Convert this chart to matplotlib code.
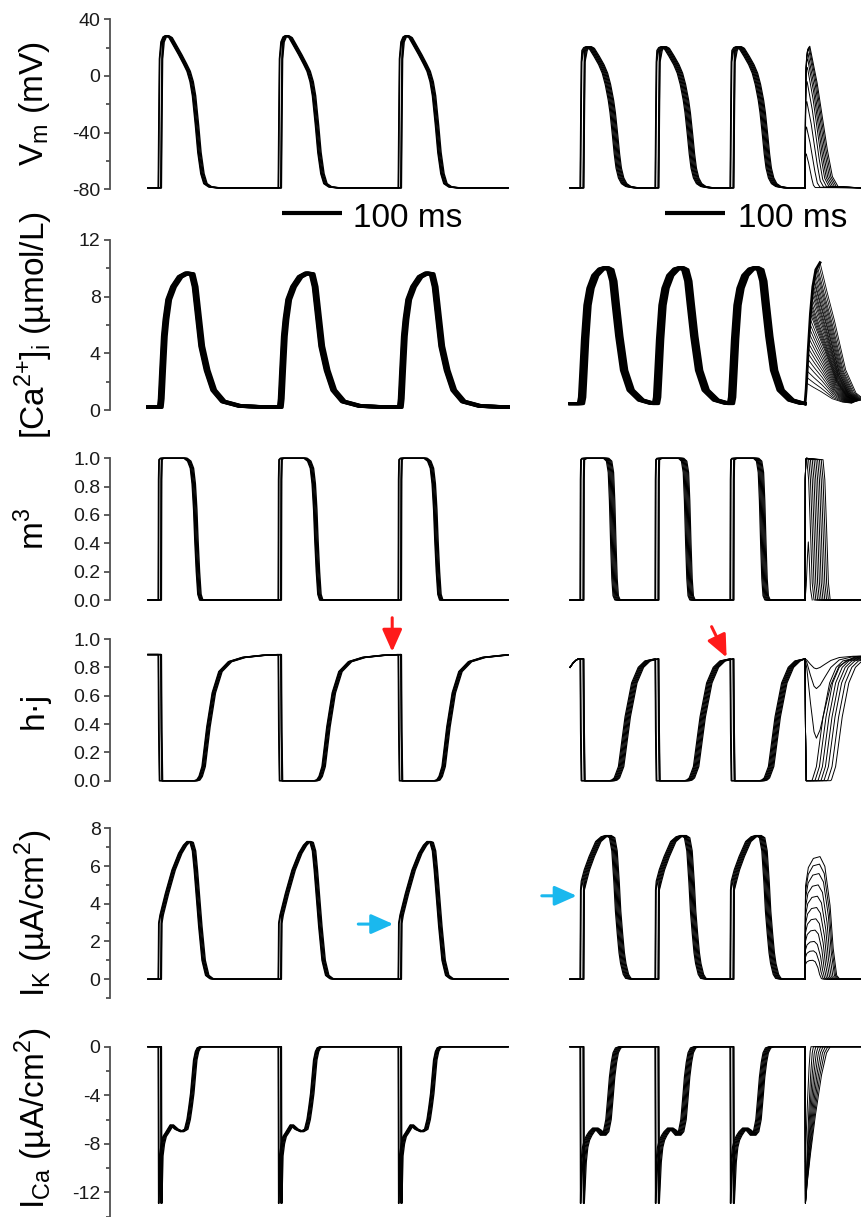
import numpy as np
import matplotlib.pyplot as plt

plt.rcParams['font.family'] = ['Liberation Sans', 'DejaVu Sans']
plt.rcParams['mathtext.fontset'] = 'custom'
plt.rcParams['mathtext.rm'] = 'Liberation Sans'
plt.rcParams['axes.unicode_minus'] = False

W, H = 861, 1217

# pacing: upstroke times (ms) of the slow train and the fast train
slow_beats = [17, 217, 417]
fast_beats = [16.7, 141.7, 266.7]
fast_last = 391.7
slow_end, fast_end = 600, 485

# per-trace delay (ms) of the upstroke and of everything after it
slow_onset = [0.0, 0.6, 4.2, 4.8, 5.4]
slow_shift = [-2.0, -1.0, 0.5, 2.0, 3.5]
fast_onset = [0.0, 0.5, 1.0, 5.0, 5.5, 6.0, 6.5]
fast_shift = [-3.0, -1.5, 0.0, 1.5, 3.0, 4.5, 6.0]

# single-beat waveforms, time (ms) from upstroke
vm_slow_t = [0, 1.0, 2.0, 6.5, 10, 14, 20, 28, 36, 44, 50, 55, 59, 64, 68, 73, 78, 86, 100]
vm_slow_v = [-79, -30, 12, 24, 27.5, 28.5, 27, 21, 15, 8.5, 3.3, -4, -14, -35, -54, -69, -76, -78.3, -79]
vm_fast_t = [0, 1.0, 2.0, 6, 9, 13, 18, 26, 34, 40, 45, 50, 53, 57, 60, 63, 67, 72, 79, 92]
vm_fast_v = [-79, -30, 10, 18, 20, 20.7, 19.5, 14, 8, 2, -6, -17, -26, -42, -55, -65, -72, -76, -78, -79]

ca_slow_t = [0, 2.8, 4.3, 6.7, 9.5, 12.2, 16.8, 24.8, 35.8, 46.8, 55.8, 60.8, 66.8, 71.8, 80.8, 91.8, 107.8, 135.8, 170]
ca_slow_v = [0.2, 0.2, 0.8, 2.9, 5.2, 6.4, 7.8, 8.7, 9.4, 9.65, 9.6, 8.7, 6.4, 4.5, 2.8, 1.4, 0.6, 0.28, 0.22]
ca_fast_t = [0, 2, 4, 7, 11, 16, 24, 34, 42, 49, 54, 58, 64, 72, 83, 100, 118]
ca_fast_v = [0.45, 0.9, 2.5, 5.0, 7.4, 8.6, 9.5, 9.95, 10.05, 9.9, 9.1, 7.5, 5.2, 2.8, 1.4, 0.7, 0.48]

m3_slow_t = [0, 0.5, 1.2, 5.5, 45, 51, 55.5, 58.5, 61, 63, 65.5, 68, 71, 80]
m3_slow_v = [0, 0.85, 0.99, 1.0, 1.0, 0.98, 0.93, 0.82, 0.64, 0.42, 0.2, 0.04, 0.0, 0.0]
m3_fast_t = [0, 0.5, 1.2, 6, 42, 47, 50, 52, 54, 56, 58, 61]
m3_fast_v = [0, 0.85, 0.99, 1.0, 1.0, 0.98, 0.9, 0.7, 0.4, 0.15, 0.03, 0]

hj_slow_t = [0, 0.8, 2.0, 62, 66, 70, 75, 83, 92, 103, 119, 142, 175]
hj_slow_v = [0.89, 0.35, 0.0, 0.0, 0.005, 0.03, 0.1, 0.38, 0.62, 0.77, 0.84, 0.87, 0.885]
hj_fast_t = [0, 0.8, 2.0, 52, 56, 60, 67, 78, 89, 100, 111]
hj_fast_v = [0.86, 0.35, 0, 0, 0.005, 0.02, 0.1, 0.45, 0.69, 0.80, 0.845]
hj_lead_t = [0, 5, 10, 14]
hj_lead_v = [0.80, 0.83, 0.85, 0.86]

ik_slow_t = [0, 0.8, 5, 14, 25, 36, 44, 50, 55, 59, 62, 65, 69.5, 75, 81, 88, 95]
ik_slow_v = [0, 2.96, 3.4, 4.55, 5.79, 6.67, 7.1, 7.3, 7.25, 6.8, 5.8, 4.6, 2.8, 1.0, 0.2, 0.03, 0]
ik_fast_t = [0, 0.8, 5, 10, 18, 29, 38, 46, 52, 56, 59.5, 62, 65, 68, 70.6, 75, 79, 88]
ik_fast_v = [0, 4.73, 5.2, 5.8, 6.5, 7.3, 7.55, 7.62, 7.5, 6.8, 5.1, 3.6, 2.43, 1.4, 0.83, 0.25, 0.04, 0]

ica_slow_t = [0, 0.7, 4.5, 7, 10, 14, 22, 30, 39, 46, 50, 53, 56, 59, 61, 64, 67, 72]
ica_slow_v = [0, -12.9, -9.0, -8.0, -7.4, -7.1, -6.45, -6.8, -7.0, -6.8, -6.0, -5.0, -3.85, -2.2, -1.1, -0.4, -0.1, 0]
ica_fast_t = [0, 0.7, 4.5, 7, 10, 14, 18, 24, 30, 37, 42, 46, 49, 52, 55, 58, 62, 68]
ica_fast_v = [0, -12.9, -9.5, -8.3, -7.7, -7.3, -7.0, -6.7, -6.9, -7.3, -7.0, -6.0, -4.3, -2.5, -1.3, -0.5, -0.1, 0]

# last beat of the fast train: the responses split apart
vm4_peak = [21, 20.5, 19, 16, 12, 6, -4, -18, -36, -55]
vm4_tpk = [8, 7, 6, 5, 4.5, 4, 3.5, 3, 2.5, 2]
vm4_end = [55, 52, 49, 46, 43, 40, 36, 31, 25, 17]
vm4_rise_f = [0, 0.125, 0.25, 0.44, 0.62, 1.0]
vm4_rise_v = [0, 0.49, 0.84, 0.94, 0.98, 1.0]
vm4_fall_f = [0.26, 0.62, 0.8, 1.0]
vm4_fall_v = [0.74, 0.27, 0.08, 0.01]

ca4_front_t = [0, 2, 5, 9, 13, 18, 25]
ca4_front_v = [0.45, 1.5, 4.0, 6.8, 8.7, 9.9, 10.4]
ca4_top_t = [25, 23, 21, 19.5, 18, 17, 16, 15, 14.5, 13.5, 13, 12.5, 12, 11.5, 11, 10.5, 10,
             9.5, 9, 8.5, 8, 7.5, 7, 6.5, 6, 5.5, 5, 4.5, 4, 3.5, 3, 2.5]
ca4_top_v = [10.4, 10.25, 10.1, 10.0, 9.9, 9.65, 9.45, 9.25, 9.1, 8.9, 8.7, 8.45, 8.2, 7.9, 7.6,
             7.4, 7.2, 7.0, 6.8, 6.45, 6.1, 5.75, 5.4, 5.05, 4.7, 4.35, 4.0, 3.6, 3.2, 2.75, 2.3, 1.9]
ca4_fall_f = [0.15, 0.32, 0.57, 0.8, 1.0]
ca4_fall_v = [0.8, 0.59, 0.24, 0.075, 0.025]
ca4_fall_len = 75

m3_fall_mid = [36, 33, 30, 27, 24, 21, 18, 15, 12, 9]
m3_fall_dt = [-6, -3, 0, 3, 6]
m3_fall_v = [0.99, 0.85, 0.5, 0.12, 0.0]
m3_part_t = [0, 2, 4, 5.5, 7, 9, 12]
m3_part_v = [0, 0.1, 0.3, 0.41, 0.3, 0.08, 0]

hj4_leave = [42, 36, 30, 25, 20, 15, 10]
hj_rec_dt = [0, 2, 9, 20, 31, 42, 53, 67, 90]
hj_rec_v = [0, 0.005, 0.1, 0.45, 0.69, 0.80, 0.845, 0.86, 0.88]
hj4_min = [0.79, 0.65, 0.3]
hj_dip_t = [0, 3, 9, 15, 19, 25, 33, 43, 57, 80, 100]
hj_dip_f = [0, 0.12, 0.55, 0.92, 1.0, 0.9, 0.65, 0.35, 0.12, 0.02, 0.0]

ik4_peak = [6.5, 6.1, 5.6, 5.0, 4.4, 3.8, 3.2, 2.6, 2.0, 1.5, 1.0]
ik4_end = [58, 56, 54, 51, 48, 45, 42, 39, 36, 33, 30]
ik_hump_f = [0, 0.014, 0.095, 0.24, 0.43, 0.57, 0.72, 0.81, 0.91, 1.0]
ik_hump_v = [0, 0.76, 0.91, 0.985, 1.0, 0.92, 0.6, 0.25, 0.03, 0]

ica4_depth = [-12.9, -12.9, -12.9, -12.9, -12.9, -12.9, -12.9, -12.9, -9.5]
ica4_end = [42, 38, 34, 30, 26, 22, 18, 14, 10]
ica_rec_f = [0, 0.08, 0.2, 0.4, 0.65, 0.85, 1.0]
ica_rec_v = [1, 0.86, 0.69, 0.44, 0.18, 0.04, 0]

# panel rows: pixel top/bottom, y range, ticks, label
row_top = [19.3, 240, 458.3, 639, 828.3, 1046.7]
row_bot = [189.3, 410, 600, 780.7, 998, 1216.6]
row_ylim = [(-80, 40), (0, 12), (0, 1), (0, 1), (-1, 8), (-14, 0)]
row_major = [[-80, -40, 0, 40], [0, 4, 8, 12], [0, 0.2, 0.4, 0.6, 0.8, 1.0],
             [0, 0.2, 0.4, 0.6, 0.8, 1.0], [0, 2, 4, 6, 8], [-12, -8, -4, 0]]
row_minor = [[-60, -20, 20], [2, 6, 10], [], [], [-1, 1, 3, 5, 7], [-14, -10, -6, -2]]
row_fmt = ['%d', '%d', '%.1f', '%.1f', '%d', '%d']
row_label = ['V$_\\mathregular{m}$ (mV)',
             '[Ca$^\\mathregular{2{+}}$]$_\\mathregular{i}$ (µmol/L)',
             'm$^\\mathregular{3}$',
             'h·j',
             'I$_\\mathregular{K}$ (µA/cm$^\\mathregular{2}$)',
             'I$_\\mathregular{Ca}$ (µA/cm$^\\mathregular{2}$)']
label_y = [104, 325, 529, 710, 913, 1118]

axis_grey = '#505050'

fig = plt.figure(figsize=(W / 100, H / 100), dpi=100)


def px_axes(x0, x1, y0, y1):
    return fig.add_axes([x0 / W, 1 - y1 / H, (x1 - x0) / W, (y1 - y0) / H])


def draw_train(ax, t, v, n_up, beats, onsets, shifts, lead_t, lead_v, end_t, tail_v, lw=1.0):
    for on, sh in zip(onsets, shifts):
        xs, ys = list(lead_t), list(lead_v)
        for b in beats:
            for k in range(len(t)):
                xs.append(b + t[k] + (on if k < n_up else sh))
                ys.append(v[k])
        xs.append(end_t)
        ys.append(tail_v)
        ax.plot(xs, ys, color='black', lw=lw, clip_on=False, solid_joinstyle='round')


def fan_line(ax, ts, vs, lw=0.7):
    ax.plot(fast_last + np.array(ts), vs, color='black', lw=lw, clip_on=False)


left_axes, right_axes = [], []
for r in range(6):
    axl = px_axes(110, 508, row_top[r], row_bot[r])
    axr = px_axes(570, 861, row_top[r], row_bot[r])
    axl.set_xlim(-63.3, slow_end)
    axr.set_xlim(0, fast_end)
    for ax in (axl, axr):
        ax.set_ylim(*row_ylim[r])
        ax.patch.set_alpha(0)
        for s in ('top', 'right', 'bottom'):
            ax.spines[s].set_visible(False)
        ax.set_xticks([])
    axr.spines['left'].set_visible(False)
    axr.set_yticks([])
    axl.spines['left'].set_color(axis_grey)
    axl.spines['left'].set_linewidth(1.3)
    axl.set_yticks(row_major[r])
    axl.set_yticks(row_minor[r], minor=True)
    axl.set_yticklabels([row_fmt[r] % val for val in row_major[r]])
    axl.tick_params(axis='y', which='major', length=4.6, width=1.3, color=axis_grey,
                    labelsize=14, pad=2.2, labelcolor='#1a1a1a')
    axl.tick_params(axis='y', which='minor', length=2.8, width=1.3, color=axis_grey)
    fig.text(34 / W, 1 - label_y[r] / H, row_label[r], rotation=90,
             ha='center', va='center', fontsize=24)
    left_axes.append(axl)
    right_axes.append(axr)

# membrane potential
ax = left_axes[0]
draw_train(ax, vm_slow_t, vm_slow_v, 3, slow_beats, slow_onset, slow_shift, [0], [-79], slow_end, -79)
ax = right_axes[0]
draw_train(ax, vm_fast_t, vm_fast_v, 3, fast_beats, fast_onset, fast_shift, [0], [-79], fast_last, -79, lw=0.85)
for pk, tp, te in zip(vm4_peak, vm4_tpk, vm4_end):
    amp = pk + 79
    ts = [tp * f for f in vm4_rise_f] + [tp + (te - tp) * f for f in vm4_fall_f] + [fast_end - fast_last]
    vs = [-79 + amp * f for f in vm4_rise_v] + [-79 + amp * f for f in vm4_fall_v] + [-79]
    fan_line(ax, ts, vs)

# scale bars
for ax, x0, xt in ((left_axes[0], 223.3, 341.7), (right_axes[0], 158.3, 280)):
    ax.plot([x0, x0 + 100], [-96.9, -96.9], color='black', lw=3.0, clip_on=False,
            solid_capstyle='butt')
    ax.text(xt, -106.6, '100 ms', fontsize=24, ha='left', va='baseline')

# intracellular calcium
ax = left_axes[1]
draw_train(ax, ca_slow_t, ca_slow_v, 0, slow_beats, slow_onset, slow_shift, [0], [0.2], slow_end, 0.21, lw=2.6)
ax = right_axes[1]
draw_train(ax, ca_fast_t, ca_fast_v, 0, fast_beats, fast_onset, fast_shift, [0], [0.45], fast_last, 0.45, lw=2.2)
for tt, tv in zip(ca4_top_t, ca4_top_v):
    ts = [x for x in ca4_front_t if x < tt] + [tt] + [tt + ca4_fall_len * f for f in ca4_fall_f]
    vs = [ca4_front_v[k] for k, x in enumerate(ca4_front_t) if x < tt] + [tv] + \
         [0.45 + (tv - 0.45) * f for f in ca4_fall_v]
    fan_line(ax, ts, vs, lw=0.6)
fan_line(ax, ca4_front_t, ca4_front_v, lw=2.0)

# m^3
ax = left_axes[2]
draw_train(ax, m3_slow_t, m3_slow_v, 3, slow_beats, slow_onset, slow_shift, [0], [0], slow_end, 0)
ax = right_axes[2]
draw_train(ax, m3_fast_t, m3_fast_v, 3, fast_beats, fast_onset, fast_shift, [0], [0], fast_last, 0, lw=0.85)
for fm in m3_fall_mid:
    ts = [0, 0.5, 1.2, 2.5] + [fm + d for d in m3_fall_dt] + [fast_end - fast_last]
    vs = [0, 0.85, 0.99, 1.0] + m3_fall_v + [0]
    fan_line(ax, ts, vs)
fan_line(ax, m3_part_t, m3_part_v)

# h*j
ax = left_axes[3]
draw_train(ax, hj_slow_t, hj_slow_v, 3, slow_beats, slow_onset, slow_shift, [0], [0.89], slow_end, 0.888)
ax = right_axes[3]
draw_train(ax, hj_fast_t, hj_fast_v, 3, fast_beats, fast_onset, fast_shift, hj_lead_t, hj_lead_v, fast_last, 0.86, lw=0.85)
for lv in hj4_leave:
    ts = [0, 0.8, 2.0] + [lv + d for d in hj_rec_dt]
    vs = [0.86, 0.35, 0.0] + hj_rec_v
    fan_line(ax, ts, vs)
for mn in hj4_min:
    vs = [0.86 - (0.86 - mn) * f if k < 4 else 0.88 - (0.88 - mn) * f
          for k, f in enumerate(hj_dip_f)]
    fan_line(ax, hj_dip_t, vs)

# potassium current
ax = left_axes[4]
draw_train(ax, ik_slow_t, ik_slow_v, 2, slow_beats, slow_onset, slow_shift, [0], [0], slow_end, 0)
ax = right_axes[4]
draw_train(ax, ik_fast_t, ik_fast_v, 2, fast_beats, fast_onset, fast_shift, [0], [0], fast_last, 0, lw=0.85)
for pk, te in zip(ik4_peak, ik4_end):
    ts = [te * f for f in ik_hump_f] + [fast_end - fast_last]
    vs = [pk * f for f in ik_hump_v] + [0]
    fan_line(ax, ts, vs)

# calcium current
ax = left_axes[5]
draw_train(ax, ica_slow_t, ica_slow_v, 2, slow_beats, slow_onset, slow_shift, [0], [0], slow_end, 0)
ax = right_axes[5]
draw_train(ax, ica_fast_t, ica_fast_v, 2, fast_beats, fast_onset, fast_shift, [0], [0], fast_last, 0, lw=0.85)
for d, te in zip(ica4_depth, ica4_end):
    ts = [0] + [0.7 + (te - 0.7) * f for f in ica_rec_f] + [fast_end - fast_last]
    vs = [0] + [d * f for f in ica_rec_v] + [0]
    fan_line(ax, ts, vs)

# arrows
red = '#ff1a1a'
cyan = '#1ab8ee'
arrow_kw = dict(arrowstyle='-|>,head_length=0.45,head_width=0.2', lw=2.2, mutation_scale=30,
                shrinkA=0, shrinkB=0)
left_axes[3].annotate('', xy=(407, 0.91), xytext=(407, 1.15), annotation_clip=False,
                      arrowprops=dict(color=red, **arrow_kw))
right_axes[3].annotate('', xy=(261, 0.87), xytext=(236, 1.087), annotation_clip=False,
                       arrowprops=dict(color=red, **arrow_kw))
left_axes[4].annotate('', xy=(408.8, 2.92), xytext=(350.5, 2.92), annotation_clip=False,
                      arrowprops=dict(color=cyan, **arrow_kw))
right_axes[4].annotate('', xy=(11.2, 4.42), xytext=(-47, 4.42), annotation_clip=False,
                       arrowprops=dict(color=cyan, **arrow_kw))

fig.savefig('out.png', dpi=100)
